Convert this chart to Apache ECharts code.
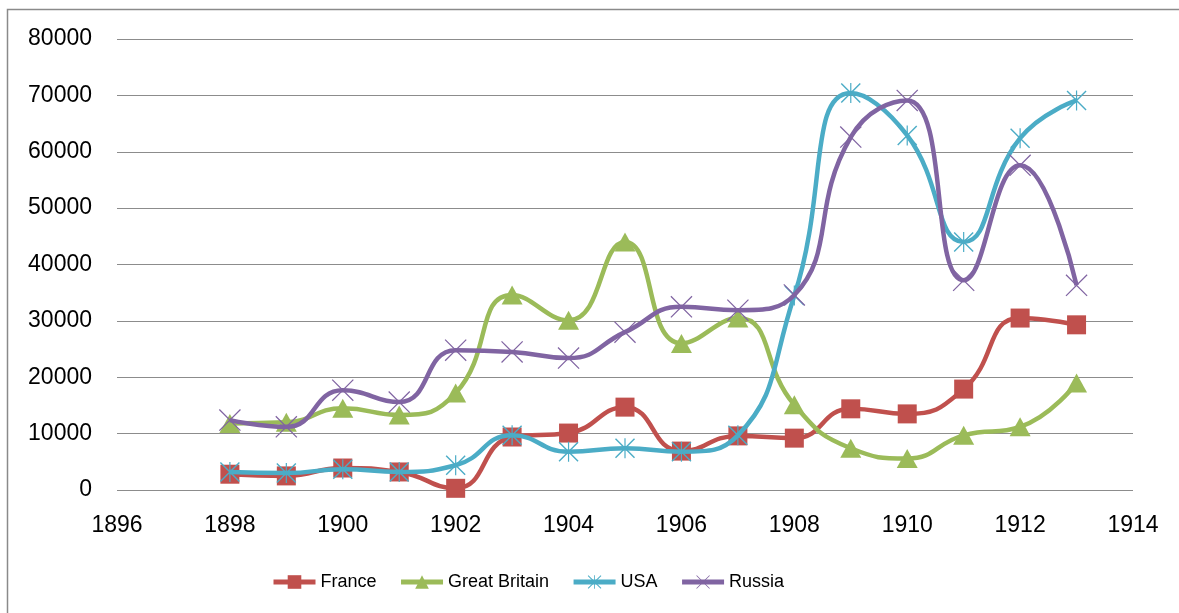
<!DOCTYPE html>
<html>
<head>
<meta charset="utf-8">
<script src="https://cdn.jsdelivr.net/npm/echarts@6/dist/echarts.min.js"></script>
<style>html,body{margin:0;padding:0;background:#fff;}#c{width:1179px;height:613px;}</style>
</head>
<body>
<div id="c"></div>
<script>
const years = [1898,1899,1900,1901,1902,1903,1904,1905,1906,1907,1908,1909,1910,1911,1912,1913];
const seriesNames = ['France','Great Britain','USA','Russia'];
const france  = [2800,2500,3900,3200,300,9400,10100,14700,6900,9600,9200,14400,13500,17900,30500,29300];
const britain = [11800,12000,14500,13300,17200,34600,30100,44000,26000,30500,15100,7400,5600,9700,11200,19000];
const usa     = [3200,3000,3700,3200,4400,9700,6800,7400,6800,9700,34500,70400,62900,44000,62400,69100];
const russia  = [12400,11200,17700,15600,24800,24500,23400,28000,32500,31900,34600,62600,69100,37200,57600,36300];
const xTicks = {min:1896, max:1914, interval:2};
const yTicks = {min:0, max:80000, interval:10000};

const colors = ['#C0504D','#9BBB59','#4BACC6','#8064A2'];
const xPath = 'path://M0,4L4,0L100,96L96,100ZM96,0L100,4L4,100L0,96Z';
const starPath = 'path://M47,0L53,0L53,100L47,100ZM0,5L5,0L100,95L95,100ZM95,0L100,5L5,100L0,95Z';
const symbols = ['rect','triangle',starPath,xPath];
const sizes = [19,[21,19],20,22];
const values = [france,britain,usa,russia];

const chart = echarts.init(document.getElementById('c'), null, {renderer:'canvas'});
chart.setOption({
  animation:false,
  backgroundColor:'#fff',
  color:colors,
  graphic:[{type:'rect',shape:{x:7.5,y:9.5,width:1300,height:800},style:{fill:'none',stroke:'#8a8a8a',lineWidth:1.5},silent:true,z:-10}],
  grid:{left:117,right:46,top:39,bottom:123,containLabel:false},
  legend:{
    left:266, top:568, itemWidth:42, itemHeight:17, itemGap:22,
    lineStyle:{width:5},
    textStyle:{fontFamily:"'Liberation Sans',sans-serif",fontSize:18,color:'#000'},
    data:seriesNames
  },
  xAxis:{
    type:'value', min:xTicks.min, max:xTicks.max, interval:xTicks.interval,
    axisLine:{show:false}, axisTick:{show:false}, splitLine:{show:false},
    axisLabel:{color:'#000',fontFamily:"'Liberation Sans',sans-serif",fontSize:23,margin:24,formatter:v=>String(v)}
  },
  yAxis:{
    type:'value', min:yTicks.min, max:yTicks.max, interval:yTicks.interval,
    axisLine:{show:false}, axisTick:{show:false},
    splitLine:{lineStyle:{color:'#8c8c8c',width:1.2}},
    axisLabel:{color:'#000',fontFamily:"'Liberation Sans',sans-serif",fontSize:23,margin:25,formatter:v=>String(v)}
  },
  series: seriesNames.map((n,i)=>({
    name:n, type:'line', smooth:0.5,
    data: years.map((y,j)=>[y, values[i][j]]),
    symbol:symbols[i], symbolSize:sizes[i], showAllSymbol:true,
    lineStyle:{width:4.5,color:colors[i]},
    itemStyle:{color:colors[i]},
    z:2+i
  }))
});
</script>
</body>
</html>
